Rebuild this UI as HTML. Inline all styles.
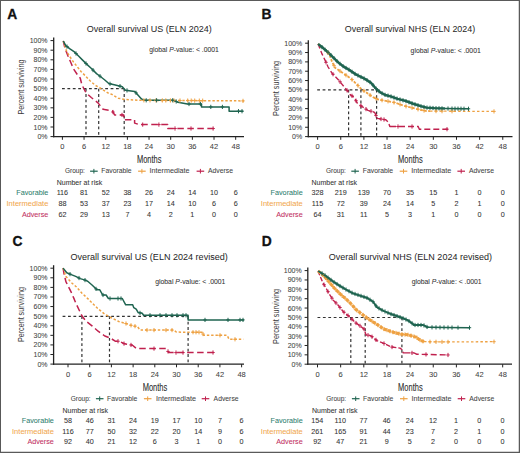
<!DOCTYPE html>
<html><head><meta charset="utf-8"><style>
html,body{margin:0;padding:0;background:#fff;}
svg{display:block;font-family:"Liberation Sans", sans-serif;}
</style></head><body>
<svg width="520" height="453" viewBox="0 0 520 453">
<rect x="0" y="0" width="520" height="453" fill="#fff"/>
<text x="86.8" y="32.2" font-size="9.7" fill="#262626" stroke="#262626" stroke-width="0.02" text-anchor="start" textLength="125" lengthAdjust="spacingAndGlyphs" >Overall survival US (ELN 2024)</text>
<text x="149.2" y="51.8" font-size="7.4" fill="#333" stroke="#333" stroke-width="0.06" text-anchor="start" textLength="69.6" lengthAdjust="spacingAndGlyphs" >global <tspan font-style="italic">P</tspan>-value: &lt; .0001</text>
<text x="7.3" y="18.5" font-size="13.8" fill="#111" stroke="#111" stroke-width="0.3" text-anchor="start" font-weight="bold">A</text>
<line x1="53.7" y1="37.6" x2="53.7" y2="137.25" stroke="#222" stroke-width="1.3"/>
<line x1="50.5" y1="136.6" x2="53.7" y2="136.6" stroke="#222" stroke-width="1"/>
<text x="47.6" y="139.1" font-size="7" fill="#444" stroke="#444" stroke-width="0.06" text-anchor="end" >0%</text>
<line x1="50.5" y1="127" x2="53.7" y2="127" stroke="#222" stroke-width="1"/>
<text x="47.6" y="129.5" font-size="7" fill="#444" stroke="#444" stroke-width="0.06" text-anchor="end" >10%</text>
<line x1="50.5" y1="117.4" x2="53.7" y2="117.4" stroke="#222" stroke-width="1"/>
<text x="47.6" y="119.9" font-size="7" fill="#444" stroke="#444" stroke-width="0.06" text-anchor="end" >20%</text>
<line x1="50.5" y1="107.8" x2="53.7" y2="107.8" stroke="#222" stroke-width="1"/>
<text x="47.6" y="110.3" font-size="7" fill="#444" stroke="#444" stroke-width="0.06" text-anchor="end" >30%</text>
<line x1="50.5" y1="98.2" x2="53.7" y2="98.2" stroke="#222" stroke-width="1"/>
<text x="47.6" y="100.7" font-size="7" fill="#444" stroke="#444" stroke-width="0.06" text-anchor="end" >40%</text>
<line x1="50.5" y1="88.6" x2="53.7" y2="88.6" stroke="#222" stroke-width="1"/>
<text x="47.6" y="91.1" font-size="7" fill="#444" stroke="#444" stroke-width="0.06" text-anchor="end" >50%</text>
<line x1="50.5" y1="79" x2="53.7" y2="79" stroke="#222" stroke-width="1"/>
<text x="47.6" y="81.5" font-size="7" fill="#444" stroke="#444" stroke-width="0.06" text-anchor="end" >60%</text>
<line x1="50.5" y1="69.4" x2="53.7" y2="69.4" stroke="#222" stroke-width="1"/>
<text x="47.6" y="71.9" font-size="7" fill="#444" stroke="#444" stroke-width="0.06" text-anchor="end" >70%</text>
<line x1="50.5" y1="59.8" x2="53.7" y2="59.8" stroke="#222" stroke-width="1"/>
<text x="47.6" y="62.3" font-size="7" fill="#444" stroke="#444" stroke-width="0.06" text-anchor="end" >80%</text>
<line x1="50.5" y1="50.2" x2="53.7" y2="50.2" stroke="#222" stroke-width="1"/>
<text x="47.6" y="52.7" font-size="7" fill="#444" stroke="#444" stroke-width="0.06" text-anchor="end" >90%</text>
<line x1="50.5" y1="40.6" x2="53.7" y2="40.6" stroke="#222" stroke-width="1"/>
<text x="47.6" y="43.1" font-size="7" fill="#444" stroke="#444" stroke-width="0.06" text-anchor="end" >100%</text>
<text transform="translate(23.9,87) rotate(-90)" font-size="9.2" fill="#3a3a3a" text-anchor="middle" textLength="55" lengthAdjust="spacingAndGlyphs">Percent surviving</text>
<line x1="53.05" y1="136.6" x2="244" y2="136.6" stroke="#222" stroke-width="1.3"/>
<line x1="62.4" y1="136.6" x2="62.4" y2="139.8" stroke="#222" stroke-width="1"/>
<text x="62.4" y="149.3" font-size="7.5" fill="#444" stroke="#444" stroke-width="0.06" text-anchor="middle" >0</text>
<line x1="84.06" y1="136.6" x2="84.06" y2="139.8" stroke="#222" stroke-width="1"/>
<text x="84.06" y="149.3" font-size="7.5" fill="#444" stroke="#444" stroke-width="0.06" text-anchor="middle" >6</text>
<line x1="105.72" y1="136.6" x2="105.72" y2="139.8" stroke="#222" stroke-width="1"/>
<text x="105.72" y="149.3" font-size="7.5" fill="#444" stroke="#444" stroke-width="0.06" text-anchor="middle" >12</text>
<line x1="127.38" y1="136.6" x2="127.38" y2="139.8" stroke="#222" stroke-width="1"/>
<text x="127.38" y="149.3" font-size="7.5" fill="#444" stroke="#444" stroke-width="0.06" text-anchor="middle" >18</text>
<line x1="149.04" y1="136.6" x2="149.04" y2="139.8" stroke="#222" stroke-width="1"/>
<text x="149.04" y="149.3" font-size="7.5" fill="#444" stroke="#444" stroke-width="0.06" text-anchor="middle" >24</text>
<line x1="170.7" y1="136.6" x2="170.7" y2="139.8" stroke="#222" stroke-width="1"/>
<text x="170.7" y="149.3" font-size="7.5" fill="#444" stroke="#444" stroke-width="0.06" text-anchor="middle" >30</text>
<line x1="192.36" y1="136.6" x2="192.36" y2="139.8" stroke="#222" stroke-width="1"/>
<text x="192.36" y="149.3" font-size="7.5" fill="#444" stroke="#444" stroke-width="0.06" text-anchor="middle" >36</text>
<line x1="214.02" y1="136.6" x2="214.02" y2="139.8" stroke="#222" stroke-width="1"/>
<text x="214.02" y="149.3" font-size="7.5" fill="#444" stroke="#444" stroke-width="0.06" text-anchor="middle" >42</text>
<line x1="235.68" y1="136.6" x2="235.68" y2="139.8" stroke="#222" stroke-width="1"/>
<text x="235.68" y="149.3" font-size="7.5" fill="#444" stroke="#444" stroke-width="0.06" text-anchor="middle" >48</text>
<text x="136.9" y="163.3" font-size="10.2" fill="#2a2a2a" stroke="#2a2a2a" stroke-width="0.08" text-anchor="start" textLength="24.6" lengthAdjust="spacingAndGlyphs" >Months</text>
<text x="64.9" y="173.4" font-size="7.3" fill="#444" stroke="#444" stroke-width="0.06" text-anchor="start" textLength="20" lengthAdjust="spacingAndGlyphs" >Group:</text>
<line x1="90.1" y1="171.2" x2="97.7" y2="171.2" stroke="#1f6450" stroke-width="1.2"/>
<line x1="93.9" y1="168.9" x2="93.9" y2="173.5" stroke="#1f6450" stroke-width="1"/>
<text x="101.3" y="173.4" font-size="7.3" fill="#444" stroke="#444" stroke-width="0.06" text-anchor="start" textLength="30.3" lengthAdjust="spacingAndGlyphs" >Favorable</text>
<line x1="138.1" y1="171.2" x2="145.7" y2="171.2" stroke="#eea142" stroke-width="1.2"/>
<line x1="141.9" y1="168.9" x2="141.9" y2="173.5" stroke="#eea142" stroke-width="1"/>
<text x="149.6" y="173.4" font-size="7.3" fill="#444" stroke="#444" stroke-width="0.06" text-anchor="start" textLength="40" lengthAdjust="spacingAndGlyphs" >Intermediate</text>
<line x1="196.6" y1="171.2" x2="204.2" y2="171.2" stroke="#c0214e" stroke-width="1.2"/>
<line x1="200.4" y1="168.9" x2="200.4" y2="173.5" stroke="#c0214e" stroke-width="1"/>
<text x="208" y="173.4" font-size="7.3" fill="#444" stroke="#444" stroke-width="0.06" text-anchor="start" textLength="25" lengthAdjust="spacingAndGlyphs" >Adverse</text>
<text x="56.7" y="184.7" font-size="7.5" fill="#333" stroke="#333" stroke-width="0.06" text-anchor="start" textLength="45.5" lengthAdjust="spacingAndGlyphs" >Number at risk</text>
<text x="48.4" y="195" font-size="7.5" fill="#2f8070" stroke="#2f8070" stroke-width="0.06" text-anchor="end" textLength="32.12" lengthAdjust="spacingAndGlyphs" >Favorable</text>
<text x="62.4" y="195" font-size="7.2" fill="#333" stroke="#333" stroke-width="0.06" text-anchor="middle" >116</text>
<text x="84.06" y="195" font-size="7.2" fill="#333" stroke="#333" stroke-width="0.06" text-anchor="middle" >81</text>
<text x="105.72" y="195" font-size="7.2" fill="#333" stroke="#333" stroke-width="0.06" text-anchor="middle" >52</text>
<text x="127.38" y="195" font-size="7.2" fill="#333" stroke="#333" stroke-width="0.06" text-anchor="middle" >38</text>
<text x="149.04" y="195" font-size="7.2" fill="#333" stroke="#333" stroke-width="0.06" text-anchor="middle" >26</text>
<text x="170.7" y="195" font-size="7.2" fill="#333" stroke="#333" stroke-width="0.06" text-anchor="middle" >24</text>
<text x="192.36" y="195" font-size="7.2" fill="#333" stroke="#333" stroke-width="0.06" text-anchor="middle" >14</text>
<text x="214.02" y="195" font-size="7.2" fill="#333" stroke="#333" stroke-width="0.06" text-anchor="middle" >10</text>
<text x="235.68" y="195" font-size="7.2" fill="#333" stroke="#333" stroke-width="0.06" text-anchor="middle" >6</text>
<text x="48.4" y="205.75" font-size="7.5" fill="#f2a84f" stroke="#f2a84f" stroke-width="0.06" text-anchor="end" textLength="41.87" lengthAdjust="spacingAndGlyphs" >Intermediate</text>
<text x="62.4" y="205.75" font-size="7.2" fill="#333" stroke="#333" stroke-width="0.06" text-anchor="middle" >88</text>
<text x="84.06" y="205.75" font-size="7.2" fill="#333" stroke="#333" stroke-width="0.06" text-anchor="middle" >53</text>
<text x="105.72" y="205.75" font-size="7.2" fill="#333" stroke="#333" stroke-width="0.06" text-anchor="middle" >37</text>
<text x="127.38" y="205.75" font-size="7.2" fill="#333" stroke="#333" stroke-width="0.06" text-anchor="middle" >23</text>
<text x="149.04" y="205.75" font-size="7.2" fill="#333" stroke="#333" stroke-width="0.06" text-anchor="middle" >17</text>
<text x="170.7" y="205.75" font-size="7.2" fill="#333" stroke="#333" stroke-width="0.06" text-anchor="middle" >14</text>
<text x="192.36" y="205.75" font-size="7.2" fill="#333" stroke="#333" stroke-width="0.06" text-anchor="middle" >10</text>
<text x="214.02" y="205.75" font-size="7.2" fill="#333" stroke="#333" stroke-width="0.06" text-anchor="middle" >6</text>
<text x="235.68" y="205.75" font-size="7.2" fill="#333" stroke="#333" stroke-width="0.06" text-anchor="middle" >6</text>
<text x="48.4" y="216.5" font-size="7.5" fill="#c23163" stroke="#c23163" stroke-width="0.06" text-anchor="end" textLength="26.5" lengthAdjust="spacingAndGlyphs" >Adverse</text>
<text x="62.4" y="216.5" font-size="7.2" fill="#333" stroke="#333" stroke-width="0.06" text-anchor="middle" >62</text>
<text x="84.06" y="216.5" font-size="7.2" fill="#333" stroke="#333" stroke-width="0.06" text-anchor="middle" >29</text>
<text x="105.72" y="216.5" font-size="7.2" fill="#333" stroke="#333" stroke-width="0.06" text-anchor="middle" >13</text>
<text x="127.38" y="216.5" font-size="7.2" fill="#333" stroke="#333" stroke-width="0.06" text-anchor="middle" >7</text>
<text x="149.04" y="216.5" font-size="7.2" fill="#333" stroke="#333" stroke-width="0.06" text-anchor="middle" >4</text>
<text x="170.7" y="216.5" font-size="7.2" fill="#333" stroke="#333" stroke-width="0.06" text-anchor="middle" >2</text>
<text x="192.36" y="216.5" font-size="7.2" fill="#333" stroke="#333" stroke-width="0.06" text-anchor="middle" >1</text>
<text x="214.02" y="216.5" font-size="7.2" fill="#333" stroke="#333" stroke-width="0.06" text-anchor="middle" >0</text>
<text x="235.68" y="216.5" font-size="7.2" fill="#333" stroke="#333" stroke-width="0.06" text-anchor="middle" >0</text>
<g stroke="#333" stroke-width="1.2" stroke-dasharray="2.8,2.6" fill="none">
<line x1="62" y1="88.7" x2="124.2" y2="88.7"/>
<line x1="86" y1="88.7" x2="86" y2="136.6"/>
<line x1="98.7" y1="88.7" x2="98.7" y2="136.6"/>
<line x1="124.2" y1="88.7" x2="124.2" y2="136.6"/>
</g>
<polyline points="63.3,41 64.8,47.6 67.7,55.3 70.6,62 73.5,68.8 77.3,74.5 80.2,78 81.9,84.8 86,92.8 91.3,97.5 98,102.9 100,105.4 103.1,109.2 112.3,110.8 114.6,114.9 123.8,114.9 123.8,119.7 134.6,119.7 134.6,123.1 139.2,124.6 167.7,124.6 167.7,128.5 215,128.5" fill="none" stroke="#c0214e" stroke-width="1.5" stroke-dasharray="6.5,3.5" stroke-linejoin="round"/>
<polyline points="63.3,41 66.7,51.5 69.6,56.3 73.5,62 77.3,66.8 81.2,71.7 86,76.5 90,80.8 95.4,85.4 99.4,87.5 108.8,93.5 111.5,94.2 118.3,98.2 125,99.5 140.2,100.3 243.9,100.9" fill="none" stroke="#eea142" stroke-width="1.5" stroke-dasharray="2.4,1.9" stroke-linejoin="round"/>
<polyline points="63.3,41 65.8,45.7 69.6,48.6 74.4,51.9 78.3,55.8 82.1,59.6 86.9,64.4 91.7,68.8 96.5,73.6 100.4,76.5 104.8,80 108.8,83.5 114.2,84.8 122.3,86.7 125.4,90.2 134.8,91.5 141.5,98.9 144.2,100.3 173.8,100.3 177.9,102.3 187.4,104 201.5,104 201.5,106.9 229.1,106.9 229.1,111.2 243.3,111.2" fill="none" stroke="#1f6450" stroke-width="1.5" stroke-linejoin="round"/>
<path d="M113 109.95v4.2M111.3 112.05h3.4M122 112.8v4.2M120.3 114.9h3.4M142.7 122.5v4.2M141 124.6h3.4M158.9 122.5v4.2M157.2 124.6h3.4M175 126.4v4.2M173.3 128.5h3.4M191 126.4v4.2M189.3 128.5h3.4M213.1 126.4v4.2M211.4 128.5h3.4" stroke="#c0214e" stroke-width="1" fill="none"/>
<path d="M143.9 98.22v4.2M142.2 100.32h3.4M150 98.26v4.2M148.3 100.36h3.4M156 98.29v4.2M154.3 100.39h3.4M162.3 98.33v4.2M160.6 100.43h3.4M165.8 98.35v4.2M164.1 100.45h3.4M170.4 98.37v4.2M168.7 100.47h3.4M173.9 98.39v4.2M172.2 100.49h3.4M180 98.43v4.2M178.3 100.53h3.4M187.7 98.47v4.2M186 100.57h3.4M191.2 98.5v4.2M189.5 100.6h3.4M194.7 98.52v4.2M193 100.62h3.4M199.3 98.54v4.2M197.6 100.64h3.4M202.7 98.56v4.2M201 100.66h3.4M243 98.79v4.2M241.3 100.89h3.4" stroke="#eea142" stroke-width="1" fill="none"/>
<path d="M67 44.52v4.2M65.3 46.62h3.4M76 51.4v4.2M74.3 53.5h3.4M86 61.4v4.2M84.3 63.5h3.4M93 68v4.2M91.3 70.1h3.4M100 74.1v4.2M98.3 76.2h3.4M110 81.69v4.2M108.3 83.79h3.4M120 84.06v4.2M118.3 86.16h3.4M127 88.32v4.2M125.3 90.42h3.4M136 90.73v4.2M134.3 92.83h3.4M146.2 98.2v4.2M144.5 100.3h3.4M156.6 98.2v4.2M154.9 100.3h3.4M172.7 98.2v4.2M171 100.3h3.4M176.2 99.37v4.2M174.5 101.47h3.4M189 101.9v4.2M187.3 104h3.4M200.4 101.9v4.2M198.7 104h3.4M210.8 104.8v4.2M209.1 106.9h3.4M222.4 104.8v4.2M220.7 106.9h3.4M238.5 109.1v4.2M236.8 111.2h3.4M242 109.1v4.2M240.3 111.2h3.4" stroke="#1f6450" stroke-width="1" fill="none"/>
<text x="344.8" y="32.2" font-size="9.7" fill="#262626" stroke="#262626" stroke-width="0.02" text-anchor="start" textLength="130.4" lengthAdjust="spacingAndGlyphs" >Overall survival NHS (ELN 2024)</text>
<text x="410.6" y="52.6" font-size="7.4" fill="#333" stroke="#333" stroke-width="0.06" text-anchor="start" textLength="70.2" lengthAdjust="spacingAndGlyphs" >global <tspan font-style="italic">P</tspan>-value: &lt; .0001</text>
<text x="261.6" y="18.5" font-size="13.8" fill="#111" stroke="#111" stroke-width="0.3" text-anchor="start" font-weight="bold">B</text>
<line x1="308.3" y1="40.2" x2="308.3" y2="137.25" stroke="#222" stroke-width="1.3"/>
<line x1="305.1" y1="136.6" x2="308.3" y2="136.6" stroke="#222" stroke-width="1"/>
<text x="302.2" y="139.1" font-size="7" fill="#444" stroke="#444" stroke-width="0.06" text-anchor="end" >0%</text>
<line x1="305.1" y1="127.26" x2="308.3" y2="127.26" stroke="#222" stroke-width="1"/>
<text x="302.2" y="129.76" font-size="7" fill="#444" stroke="#444" stroke-width="0.06" text-anchor="end" >10%</text>
<line x1="305.1" y1="117.92" x2="308.3" y2="117.92" stroke="#222" stroke-width="1"/>
<text x="302.2" y="120.42" font-size="7" fill="#444" stroke="#444" stroke-width="0.06" text-anchor="end" >20%</text>
<line x1="305.1" y1="108.58" x2="308.3" y2="108.58" stroke="#222" stroke-width="1"/>
<text x="302.2" y="111.08" font-size="7" fill="#444" stroke="#444" stroke-width="0.06" text-anchor="end" >30%</text>
<line x1="305.1" y1="99.24" x2="308.3" y2="99.24" stroke="#222" stroke-width="1"/>
<text x="302.2" y="101.74" font-size="7" fill="#444" stroke="#444" stroke-width="0.06" text-anchor="end" >40%</text>
<line x1="305.1" y1="89.9" x2="308.3" y2="89.9" stroke="#222" stroke-width="1"/>
<text x="302.2" y="92.4" font-size="7" fill="#444" stroke="#444" stroke-width="0.06" text-anchor="end" >50%</text>
<line x1="305.1" y1="80.56" x2="308.3" y2="80.56" stroke="#222" stroke-width="1"/>
<text x="302.2" y="83.06" font-size="7" fill="#444" stroke="#444" stroke-width="0.06" text-anchor="end" >60%</text>
<line x1="305.1" y1="71.22" x2="308.3" y2="71.22" stroke="#222" stroke-width="1"/>
<text x="302.2" y="73.72" font-size="7" fill="#444" stroke="#444" stroke-width="0.06" text-anchor="end" >70%</text>
<line x1="305.1" y1="61.88" x2="308.3" y2="61.88" stroke="#222" stroke-width="1"/>
<text x="302.2" y="64.38" font-size="7" fill="#444" stroke="#444" stroke-width="0.06" text-anchor="end" >80%</text>
<line x1="305.1" y1="52.54" x2="308.3" y2="52.54" stroke="#222" stroke-width="1"/>
<text x="302.2" y="55.04" font-size="7" fill="#444" stroke="#444" stroke-width="0.06" text-anchor="end" >90%</text>
<line x1="305.1" y1="43.2" x2="308.3" y2="43.2" stroke="#222" stroke-width="1"/>
<text x="302.2" y="45.7" font-size="7" fill="#444" stroke="#444" stroke-width="0.06" text-anchor="end" >100%</text>
<text transform="translate(279.4,88.4) rotate(-90)" font-size="9.2" fill="#3a3a3a" text-anchor="middle" textLength="55" lengthAdjust="spacingAndGlyphs">Percent surviving</text>
<line x1="307.65" y1="136.6" x2="512.5" y2="136.6" stroke="#222" stroke-width="1.3"/>
<line x1="317.6" y1="136.6" x2="317.6" y2="139.8" stroke="#222" stroke-width="1"/>
<text x="317.6" y="149.3" font-size="7.5" fill="#444" stroke="#444" stroke-width="0.06" text-anchor="middle" >0</text>
<line x1="340.75" y1="136.6" x2="340.75" y2="139.8" stroke="#222" stroke-width="1"/>
<text x="340.75" y="149.3" font-size="7.5" fill="#444" stroke="#444" stroke-width="0.06" text-anchor="middle" >6</text>
<line x1="363.9" y1="136.6" x2="363.9" y2="139.8" stroke="#222" stroke-width="1"/>
<text x="363.9" y="149.3" font-size="7.5" fill="#444" stroke="#444" stroke-width="0.06" text-anchor="middle" >12</text>
<line x1="387.04" y1="136.6" x2="387.04" y2="139.8" stroke="#222" stroke-width="1"/>
<text x="387.04" y="149.3" font-size="7.5" fill="#444" stroke="#444" stroke-width="0.06" text-anchor="middle" >18</text>
<line x1="410.19" y1="136.6" x2="410.19" y2="139.8" stroke="#222" stroke-width="1"/>
<text x="410.19" y="149.3" font-size="7.5" fill="#444" stroke="#444" stroke-width="0.06" text-anchor="middle" >24</text>
<line x1="433.34" y1="136.6" x2="433.34" y2="139.8" stroke="#222" stroke-width="1"/>
<text x="433.34" y="149.3" font-size="7.5" fill="#444" stroke="#444" stroke-width="0.06" text-anchor="middle" >30</text>
<line x1="456.49" y1="136.6" x2="456.49" y2="139.8" stroke="#222" stroke-width="1"/>
<text x="456.49" y="149.3" font-size="7.5" fill="#444" stroke="#444" stroke-width="0.06" text-anchor="middle" >36</text>
<line x1="479.64" y1="136.6" x2="479.64" y2="139.8" stroke="#222" stroke-width="1"/>
<text x="479.64" y="149.3" font-size="7.5" fill="#444" stroke="#444" stroke-width="0.06" text-anchor="middle" >42</text>
<line x1="502.78" y1="136.6" x2="502.78" y2="139.8" stroke="#222" stroke-width="1"/>
<text x="502.78" y="149.3" font-size="7.5" fill="#444" stroke="#444" stroke-width="0.06" text-anchor="middle" >48</text>
<text x="398.1" y="163.3" font-size="10.2" fill="#2a2a2a" stroke="#2a2a2a" stroke-width="0.08" text-anchor="start" textLength="24.6" lengthAdjust="spacingAndGlyphs" >Months</text>
<text x="325.9" y="173.4" font-size="7.3" fill="#444" stroke="#444" stroke-width="0.06" text-anchor="start" textLength="20" lengthAdjust="spacingAndGlyphs" >Group:</text>
<line x1="351.3" y1="171.2" x2="358.9" y2="171.2" stroke="#1f6450" stroke-width="1.2"/>
<line x1="355.1" y1="168.9" x2="355.1" y2="173.5" stroke="#1f6450" stroke-width="1"/>
<text x="362.8" y="173.4" font-size="7.3" fill="#444" stroke="#444" stroke-width="0.06" text-anchor="start" textLength="30.3" lengthAdjust="spacingAndGlyphs" >Favorable</text>
<line x1="399.7" y1="171.2" x2="407.3" y2="171.2" stroke="#eea142" stroke-width="1.2"/>
<line x1="403.5" y1="168.9" x2="403.5" y2="173.5" stroke="#eea142" stroke-width="1"/>
<text x="411.2" y="173.4" font-size="7.3" fill="#444" stroke="#444" stroke-width="0.06" text-anchor="start" textLength="40" lengthAdjust="spacingAndGlyphs" >Intermediate</text>
<line x1="457.4" y1="171.2" x2="465" y2="171.2" stroke="#c0214e" stroke-width="1.2"/>
<line x1="461.2" y1="168.9" x2="461.2" y2="173.5" stroke="#c0214e" stroke-width="1"/>
<text x="469" y="173.4" font-size="7.3" fill="#444" stroke="#444" stroke-width="0.06" text-anchor="start" textLength="25" lengthAdjust="spacingAndGlyphs" >Adverse</text>
<text x="311.5" y="184.7" font-size="7.5" fill="#333" stroke="#333" stroke-width="0.06" text-anchor="start" textLength="45.5" lengthAdjust="spacingAndGlyphs" >Number at risk</text>
<text x="302.7" y="195" font-size="7.5" fill="#2f8070" stroke="#2f8070" stroke-width="0.06" text-anchor="end" textLength="32.12" lengthAdjust="spacingAndGlyphs" >Favorable</text>
<text x="317.5" y="195" font-size="7.2" fill="#333" stroke="#333" stroke-width="0.06" text-anchor="middle" >328</text>
<text x="340.65" y="195" font-size="7.2" fill="#333" stroke="#333" stroke-width="0.06" text-anchor="middle" >219</text>
<text x="363.8" y="195" font-size="7.2" fill="#333" stroke="#333" stroke-width="0.06" text-anchor="middle" >139</text>
<text x="386.94" y="195" font-size="7.2" fill="#333" stroke="#333" stroke-width="0.06" text-anchor="middle" >70</text>
<text x="410.09" y="195" font-size="7.2" fill="#333" stroke="#333" stroke-width="0.06" text-anchor="middle" >35</text>
<text x="433.24" y="195" font-size="7.2" fill="#333" stroke="#333" stroke-width="0.06" text-anchor="middle" >15</text>
<text x="456.39" y="195" font-size="7.2" fill="#333" stroke="#333" stroke-width="0.06" text-anchor="middle" >1</text>
<text x="479.54" y="195" font-size="7.2" fill="#333" stroke="#333" stroke-width="0.06" text-anchor="middle" >0</text>
<text x="502.68" y="195" font-size="7.2" fill="#333" stroke="#333" stroke-width="0.06" text-anchor="middle" >0</text>
<text x="302.7" y="205.75" font-size="7.5" fill="#f2a84f" stroke="#f2a84f" stroke-width="0.06" text-anchor="end" textLength="41.87" lengthAdjust="spacingAndGlyphs" >Intermediate</text>
<text x="317.5" y="205.75" font-size="7.2" fill="#333" stroke="#333" stroke-width="0.06" text-anchor="middle" >115</text>
<text x="340.65" y="205.75" font-size="7.2" fill="#333" stroke="#333" stroke-width="0.06" text-anchor="middle" >72</text>
<text x="363.8" y="205.75" font-size="7.2" fill="#333" stroke="#333" stroke-width="0.06" text-anchor="middle" >39</text>
<text x="386.94" y="205.75" font-size="7.2" fill="#333" stroke="#333" stroke-width="0.06" text-anchor="middle" >24</text>
<text x="410.09" y="205.75" font-size="7.2" fill="#333" stroke="#333" stroke-width="0.06" text-anchor="middle" >14</text>
<text x="433.24" y="205.75" font-size="7.2" fill="#333" stroke="#333" stroke-width="0.06" text-anchor="middle" >5</text>
<text x="456.39" y="205.75" font-size="7.2" fill="#333" stroke="#333" stroke-width="0.06" text-anchor="middle" >2</text>
<text x="479.54" y="205.75" font-size="7.2" fill="#333" stroke="#333" stroke-width="0.06" text-anchor="middle" >1</text>
<text x="502.68" y="205.75" font-size="7.2" fill="#333" stroke="#333" stroke-width="0.06" text-anchor="middle" >0</text>
<text x="302.7" y="216.5" font-size="7.5" fill="#c23163" stroke="#c23163" stroke-width="0.06" text-anchor="end" textLength="26.5" lengthAdjust="spacingAndGlyphs" >Adverse</text>
<text x="317.5" y="216.5" font-size="7.2" fill="#333" stroke="#333" stroke-width="0.06" text-anchor="middle" >64</text>
<text x="340.65" y="216.5" font-size="7.2" fill="#333" stroke="#333" stroke-width="0.06" text-anchor="middle" >31</text>
<text x="363.8" y="216.5" font-size="7.2" fill="#333" stroke="#333" stroke-width="0.06" text-anchor="middle" >11</text>
<text x="386.94" y="216.5" font-size="7.2" fill="#333" stroke="#333" stroke-width="0.06" text-anchor="middle" >5</text>
<text x="410.09" y="216.5" font-size="7.2" fill="#333" stroke="#333" stroke-width="0.06" text-anchor="middle" >3</text>
<text x="433.24" y="216.5" font-size="7.2" fill="#333" stroke="#333" stroke-width="0.06" text-anchor="middle" >1</text>
<text x="456.39" y="216.5" font-size="7.2" fill="#333" stroke="#333" stroke-width="0.06" text-anchor="middle" >0</text>
<text x="479.54" y="216.5" font-size="7.2" fill="#333" stroke="#333" stroke-width="0.06" text-anchor="middle" >0</text>
<text x="502.68" y="216.5" font-size="7.2" fill="#333" stroke="#333" stroke-width="0.06" text-anchor="middle" >0</text>
<g stroke="#333" stroke-width="1.2" stroke-dasharray="2.8,2.6" fill="none">
<line x1="317.2" y1="89.8" x2="376.6" y2="89.8"/>
<line x1="348.6" y1="89.8" x2="348.6" y2="136.6"/>
<line x1="360.9" y1="89.8" x2="360.9" y2="136.6"/>
<line x1="376.6" y1="89.8" x2="376.6" y2="136.6"/>
</g>
<polyline points="318.1,43.9 319.6,47.7 322,53.9 325,60.1 328.1,67 332,73.2 338.3,79.7 346.3,89.4 350.4,94.8 354.4,97.5 357.1,102.9 362.5,106.9 367.9,110.3 374.6,112.3 377.3,118.4 385.8,119.8 388.5,122.5 389.8,126.5 390,126.5" fill="none" stroke="#c0214e" stroke-width="1.4" stroke-dasharray="5,2.5" stroke-linejoin="round"/>
<polyline points="390,126.5 418.1,126.5 419.4,129.2 447.9,129.2" fill="none" stroke="#c0214e" stroke-width="1.4" stroke-dasharray="6,3"/>
<polyline points="318.1,43.9 326.6,50.8 329.7,55.4 332,61.6 335.1,67.8 339.7,70.9 344.3,74 351.8,79.4 357.1,84.7 361.5,89.1 367.7,93.5 373,97.1 378,99.5 385.8,100.9 395.8,102.8 403.5,105.7 411.2,107.6 418.8,109.5 426.5,111 430,111.04" fill="none" stroke="#eea142" stroke-width="1.8" stroke-dasharray="2.6,1.5" stroke-linejoin="round"/>
<polyline points="430,111.04 445,111.2 494.1,111.4" fill="none" stroke="#eea142" stroke-width="1.3" stroke-dasharray="2.5,2.2"/>
<polyline points="318.1,43.9 322.7,47.7 328.1,52.4 332.8,57 338.2,62.4 343.6,66.6 349,69.7 355.3,74.1 360.6,76.8 365.9,79.4 371.2,83 375.6,88.2 380,92.2 385.3,95 390.6,96.3 397.7,98.9 405.4,100.9 413.1,103.75 420.8,106.2 426.5,107.6 434.2,108.1 445,108.5" fill="none" stroke="#1f6450" stroke-width="2.4" stroke-linejoin="round"/>
<polyline points="445,108.5 468.9,108.8" fill="none" stroke="#1f6450" stroke-width="1.4"/>
<path d="M326 60.23v4.2M324.3 62.33h3.4M333 72.13v4.2M331.3 74.23h3.4M340 79.66v4.2M338.3 81.76h3.4M347 88.22v4.2M345.3 90.32h3.4M352 93.78v4.2M350.3 95.88h3.4M356 98.6v4.2M354.3 100.7h3.4M361 103.69v4.2M359.3 105.79h3.4M366 107v4.2M364.3 109.1h3.4M371 109.13v4.2M369.3 111.23h3.4M376 113.36v4.2M374.3 115.46h3.4M381 116.91v4.2M379.3 119.01h3.4M384 117.4v4.2M382.3 119.5h3.4M398 124.4v4.2M396.3 126.5h3.4M412 124.4v4.2M410.3 126.5h3.4M447 127.1v4.2M445.3 129.2h3.4" stroke="#c0214e" stroke-width="1" fill="none"/>
<path d="M328 50.78v4.2M326.3 52.88h3.4M334 63.5v4.2M332.3 65.6h3.4M340 69v4.2M338.3 71.1h3.4M346 73.12v4.2M344.3 75.22h3.4M352 77.5v4.2M350.3 79.6h3.4M358 83.5v4.2M356.3 85.6h3.4M364 88.77v4.2M362.3 90.87h3.4M370 92.96v4.2M368.3 95.06h3.4M376 96.44v4.2M374.3 98.54h3.4M382 98.12v4.2M380.3 100.22h3.4M388 99.22v4.2M386.3 101.32h3.4M394 100.36v4.2M392.3 102.46h3.4M400 102.28v4.2M398.3 104.38h3.4M406 104.22v4.2M404.3 106.32h3.4M412 105.7v4.2M410.3 107.8h3.4M418 107.2v4.2M416.3 109.3h3.4M424 108.41v4.2M422.3 110.51h3.4M436 109v4.2M434.3 111.1h3.4M442 109.07v4.2M440.3 111.17h3.4M452 109.13v4.2M450.3 111.23h3.4M494 109.3v4.2M492.3 111.4h3.4" stroke="#eea142" stroke-width="1" fill="none"/>
<path d="M322 45.02v4.2M320.3 47.12h3.4M325 47.6v4.2M323.3 49.7h3.4M328 50.21v4.2M326.3 52.31h3.4M331 53.14v4.2M329.3 55.24h3.4M334 56.1v4.2M332.3 58.2h3.4M337 59.1v4.2M335.3 61.2h3.4M340 61.7v4.2M338.3 63.8h3.4M343 64.03v4.2M341.3 66.13h3.4M346 65.88v4.2M344.3 67.98h3.4M349 67.6v4.2M347.3 69.7h3.4M352 69.7v4.2M350.3 71.8h3.4M355 71.79v4.2M353.3 73.89h3.4M358 73.38v4.2M356.3 75.48h3.4M361 74.9v4.2M359.3 77h3.4M364 76.37v4.2M362.3 78.47h3.4M367 78.05v4.2M365.3 80.15h3.4M370 80.08v4.2M368.3 82.18h3.4M373 83.03v4.2M371.3 85.13h3.4M376 86.46v4.2M374.3 88.56h3.4M379 89.19v4.2M377.3 91.29h3.4M382 91.16v4.2M380.3 93.26h3.4M385 92.74v4.2M383.3 94.84h3.4M388 93.56v4.2M386.3 95.66h3.4M391 94.35v4.2M389.3 96.45h3.4M394 95.45v4.2M392.3 97.55h3.4M397 96.54v4.2M395.3 98.64h3.4M400 97.4v4.2M398.3 99.5h3.4M403 98.18v4.2M401.3 100.28h3.4M406 99.02v4.2M404.3 101.12h3.4M409 100.13v4.2M407.3 102.23h3.4M412 101.24v4.2M410.3 103.34h3.4M415 102.25v4.2M413.3 104.35h3.4M418 103.21v4.2M416.3 105.31h3.4M421 104.15v4.2M419.3 106.25h3.4M424 104.89v4.2M422.3 106.99h3.4M427 105.53v4.2M425.3 107.63h3.4M430 105.73v4.2M428.3 107.83h3.4M433 105.92v4.2M431.3 108.02h3.4M436 106.07v4.2M434.3 108.17h3.4M439 106.18v4.2M437.3 108.28h3.4M442 106.29v4.2M440.3 108.39h3.4M448 106.44v4.2M446.3 108.54h3.4M452 106.49v4.2M450.3 108.59h3.4M455 106.53v4.2M453.3 108.63h3.4M458 106.56v4.2M456.3 108.66h3.4M461 106.6v4.2M459.3 108.7h3.4M464 106.64v4.2M462.3 108.74h3.4M468.5 106.69v4.2M466.8 108.79h3.4" stroke="#1f6450" stroke-width="1" fill="none"/>
<text x="70.4" y="259.9" font-size="9.7" fill="#262626" stroke="#262626" stroke-width="0.02" text-anchor="start" textLength="157.4" lengthAdjust="spacingAndGlyphs" >Overall survival US (ELN 2024 revised)</text>
<text x="155.2" y="284.3" font-size="7.4" fill="#333" stroke="#333" stroke-width="0.06" text-anchor="start" textLength="70.2" lengthAdjust="spacingAndGlyphs" >global <tspan font-style="italic">P</tspan>-value: &lt; .0001</text>
<text x="12.6" y="245.9" font-size="13.8" fill="#111" stroke="#111" stroke-width="0.3" text-anchor="start" font-weight="bold">C</text>
<line x1="53.6" y1="265.2" x2="53.6" y2="364.75" stroke="#222" stroke-width="1.3"/>
<line x1="50.4" y1="364.1" x2="53.6" y2="364.1" stroke="#222" stroke-width="1"/>
<text x="47.5" y="366.6" font-size="7" fill="#444" stroke="#444" stroke-width="0.06" text-anchor="end" >0%</text>
<line x1="50.4" y1="354.51" x2="53.6" y2="354.51" stroke="#222" stroke-width="1"/>
<text x="47.5" y="357.01" font-size="7" fill="#444" stroke="#444" stroke-width="0.06" text-anchor="end" >10%</text>
<line x1="50.4" y1="344.92" x2="53.6" y2="344.92" stroke="#222" stroke-width="1"/>
<text x="47.5" y="347.42" font-size="7" fill="#444" stroke="#444" stroke-width="0.06" text-anchor="end" >20%</text>
<line x1="50.4" y1="335.33" x2="53.6" y2="335.33" stroke="#222" stroke-width="1"/>
<text x="47.5" y="337.83" font-size="7" fill="#444" stroke="#444" stroke-width="0.06" text-anchor="end" >30%</text>
<line x1="50.4" y1="325.74" x2="53.6" y2="325.74" stroke="#222" stroke-width="1"/>
<text x="47.5" y="328.24" font-size="7" fill="#444" stroke="#444" stroke-width="0.06" text-anchor="end" >40%</text>
<line x1="50.4" y1="316.15" x2="53.6" y2="316.15" stroke="#222" stroke-width="1"/>
<text x="47.5" y="318.65" font-size="7" fill="#444" stroke="#444" stroke-width="0.06" text-anchor="end" >50%</text>
<line x1="50.4" y1="306.56" x2="53.6" y2="306.56" stroke="#222" stroke-width="1"/>
<text x="47.5" y="309.06" font-size="7" fill="#444" stroke="#444" stroke-width="0.06" text-anchor="end" >60%</text>
<line x1="50.4" y1="296.97" x2="53.6" y2="296.97" stroke="#222" stroke-width="1"/>
<text x="47.5" y="299.47" font-size="7" fill="#444" stroke="#444" stroke-width="0.06" text-anchor="end" >70%</text>
<line x1="50.4" y1="287.38" x2="53.6" y2="287.38" stroke="#222" stroke-width="1"/>
<text x="47.5" y="289.88" font-size="7" fill="#444" stroke="#444" stroke-width="0.06" text-anchor="end" >80%</text>
<line x1="50.4" y1="277.79" x2="53.6" y2="277.79" stroke="#222" stroke-width="1"/>
<text x="47.5" y="280.29" font-size="7" fill="#444" stroke="#444" stroke-width="0.06" text-anchor="end" >90%</text>
<line x1="50.4" y1="268.2" x2="53.6" y2="268.2" stroke="#222" stroke-width="1"/>
<text x="47.5" y="270.7" font-size="7" fill="#444" stroke="#444" stroke-width="0.06" text-anchor="end" >100%</text>
<text transform="translate(23.9,314.6) rotate(-90)" font-size="9.2" fill="#3a3a3a" text-anchor="middle" textLength="55" lengthAdjust="spacingAndGlyphs">Percent surviving</text>
<line x1="52.95" y1="364.1" x2="244" y2="364.1" stroke="#222" stroke-width="1.3"/>
<line x1="68" y1="364.1" x2="68" y2="367.3" stroke="#222" stroke-width="1"/>
<text x="68" y="377.1" font-size="7.5" fill="#444" stroke="#444" stroke-width="0.06" text-anchor="middle" >0</text>
<line x1="89.7" y1="364.1" x2="89.7" y2="367.3" stroke="#222" stroke-width="1"/>
<text x="89.7" y="377.1" font-size="7.5" fill="#444" stroke="#444" stroke-width="0.06" text-anchor="middle" >6</text>
<line x1="111.4" y1="364.1" x2="111.4" y2="367.3" stroke="#222" stroke-width="1"/>
<text x="111.4" y="377.1" font-size="7.5" fill="#444" stroke="#444" stroke-width="0.06" text-anchor="middle" >12</text>
<line x1="133.11" y1="364.1" x2="133.11" y2="367.3" stroke="#222" stroke-width="1"/>
<text x="133.11" y="377.1" font-size="7.5" fill="#444" stroke="#444" stroke-width="0.06" text-anchor="middle" >18</text>
<line x1="154.81" y1="364.1" x2="154.81" y2="367.3" stroke="#222" stroke-width="1"/>
<text x="154.81" y="377.1" font-size="7.5" fill="#444" stroke="#444" stroke-width="0.06" text-anchor="middle" >24</text>
<line x1="176.51" y1="364.1" x2="176.51" y2="367.3" stroke="#222" stroke-width="1"/>
<text x="176.51" y="377.1" font-size="7.5" fill="#444" stroke="#444" stroke-width="0.06" text-anchor="middle" >30</text>
<line x1="198.21" y1="364.1" x2="198.21" y2="367.3" stroke="#222" stroke-width="1"/>
<text x="198.21" y="377.1" font-size="7.5" fill="#444" stroke="#444" stroke-width="0.06" text-anchor="middle" >36</text>
<line x1="219.91" y1="364.1" x2="219.91" y2="367.3" stroke="#222" stroke-width="1"/>
<text x="219.91" y="377.1" font-size="7.5" fill="#444" stroke="#444" stroke-width="0.06" text-anchor="middle" >42</text>
<line x1="241.62" y1="364.1" x2="241.62" y2="367.3" stroke="#222" stroke-width="1"/>
<text x="241.62" y="377.1" font-size="7.5" fill="#444" stroke="#444" stroke-width="0.06" text-anchor="middle" >48</text>
<text x="142.7" y="390.9" font-size="10.2" fill="#2a2a2a" stroke="#2a2a2a" stroke-width="0.08" text-anchor="start" textLength="24.6" lengthAdjust="spacingAndGlyphs" >Months</text>
<text x="70.7" y="400.9" font-size="7.3" fill="#444" stroke="#444" stroke-width="0.06" text-anchor="start" textLength="20" lengthAdjust="spacingAndGlyphs" >Group:</text>
<line x1="95.9" y1="398.7" x2="103.5" y2="398.7" stroke="#1f6450" stroke-width="1.2"/>
<line x1="99.7" y1="396.4" x2="99.7" y2="401" stroke="#1f6450" stroke-width="1"/>
<text x="107.1" y="400.9" font-size="7.3" fill="#444" stroke="#444" stroke-width="0.06" text-anchor="start" textLength="30.3" lengthAdjust="spacingAndGlyphs" >Favorable</text>
<line x1="143.9" y1="398.7" x2="151.5" y2="398.7" stroke="#eea142" stroke-width="1.2"/>
<line x1="147.7" y1="396.4" x2="147.7" y2="401" stroke="#eea142" stroke-width="1"/>
<text x="155.9" y="400.9" font-size="7.3" fill="#444" stroke="#444" stroke-width="0.06" text-anchor="start" textLength="40" lengthAdjust="spacingAndGlyphs" >Intermediate</text>
<line x1="201.7" y1="398.7" x2="209.3" y2="398.7" stroke="#c0214e" stroke-width="1.2"/>
<line x1="205.5" y1="396.4" x2="205.5" y2="401" stroke="#c0214e" stroke-width="1"/>
<text x="213.6" y="400.9" font-size="7.3" fill="#444" stroke="#444" stroke-width="0.06" text-anchor="start" textLength="25" lengthAdjust="spacingAndGlyphs" >Adverse</text>
<text x="62.5" y="412.5" font-size="7.5" fill="#333" stroke="#333" stroke-width="0.06" text-anchor="start" textLength="45.5" lengthAdjust="spacingAndGlyphs" >Number at risk</text>
<text x="53.9" y="422.8" font-size="7.5" fill="#2f8070" stroke="#2f8070" stroke-width="0.06" text-anchor="end" textLength="32.12" lengthAdjust="spacingAndGlyphs" >Favorable</text>
<text x="68" y="422.8" font-size="7.2" fill="#333" stroke="#333" stroke-width="0.06" text-anchor="middle" >58</text>
<text x="89.7" y="422.8" font-size="7.2" fill="#333" stroke="#333" stroke-width="0.06" text-anchor="middle" >46</text>
<text x="111.4" y="422.8" font-size="7.2" fill="#333" stroke="#333" stroke-width="0.06" text-anchor="middle" >31</text>
<text x="133.11" y="422.8" font-size="7.2" fill="#333" stroke="#333" stroke-width="0.06" text-anchor="middle" >24</text>
<text x="154.81" y="422.8" font-size="7.2" fill="#333" stroke="#333" stroke-width="0.06" text-anchor="middle" >19</text>
<text x="176.51" y="422.8" font-size="7.2" fill="#333" stroke="#333" stroke-width="0.06" text-anchor="middle" >17</text>
<text x="198.21" y="422.8" font-size="7.2" fill="#333" stroke="#333" stroke-width="0.06" text-anchor="middle" >10</text>
<text x="219.91" y="422.8" font-size="7.2" fill="#333" stroke="#333" stroke-width="0.06" text-anchor="middle" >7</text>
<text x="241.62" y="422.8" font-size="7.2" fill="#333" stroke="#333" stroke-width="0.06" text-anchor="middle" >6</text>
<text x="53.9" y="433.55" font-size="7.5" fill="#f2a84f" stroke="#f2a84f" stroke-width="0.06" text-anchor="end" textLength="41.87" lengthAdjust="spacingAndGlyphs" >Intermediate</text>
<text x="68" y="433.55" font-size="7.2" fill="#333" stroke="#333" stroke-width="0.06" text-anchor="middle" >116</text>
<text x="89.7" y="433.55" font-size="7.2" fill="#333" stroke="#333" stroke-width="0.06" text-anchor="middle" >77</text>
<text x="111.4" y="433.55" font-size="7.2" fill="#333" stroke="#333" stroke-width="0.06" text-anchor="middle" >50</text>
<text x="133.11" y="433.55" font-size="7.2" fill="#333" stroke="#333" stroke-width="0.06" text-anchor="middle" >32</text>
<text x="154.81" y="433.55" font-size="7.2" fill="#333" stroke="#333" stroke-width="0.06" text-anchor="middle" >22</text>
<text x="176.51" y="433.55" font-size="7.2" fill="#333" stroke="#333" stroke-width="0.06" text-anchor="middle" >20</text>
<text x="198.21" y="433.55" font-size="7.2" fill="#333" stroke="#333" stroke-width="0.06" text-anchor="middle" >14</text>
<text x="219.91" y="433.55" font-size="7.2" fill="#333" stroke="#333" stroke-width="0.06" text-anchor="middle" >9</text>
<text x="241.62" y="433.55" font-size="7.2" fill="#333" stroke="#333" stroke-width="0.06" text-anchor="middle" >6</text>
<text x="53.9" y="444.3" font-size="7.5" fill="#c23163" stroke="#c23163" stroke-width="0.06" text-anchor="end" textLength="26.5" lengthAdjust="spacingAndGlyphs" >Adverse</text>
<text x="68" y="444.3" font-size="7.2" fill="#333" stroke="#333" stroke-width="0.06" text-anchor="middle" >92</text>
<text x="89.7" y="444.3" font-size="7.2" fill="#333" stroke="#333" stroke-width="0.06" text-anchor="middle" >40</text>
<text x="111.4" y="444.3" font-size="7.2" fill="#333" stroke="#333" stroke-width="0.06" text-anchor="middle" >21</text>
<text x="133.11" y="444.3" font-size="7.2" fill="#333" stroke="#333" stroke-width="0.06" text-anchor="middle" >12</text>
<text x="154.81" y="444.3" font-size="7.2" fill="#333" stroke="#333" stroke-width="0.06" text-anchor="middle" >6</text>
<text x="176.51" y="444.3" font-size="7.2" fill="#333" stroke="#333" stroke-width="0.06" text-anchor="middle" >3</text>
<text x="198.21" y="444.3" font-size="7.2" fill="#333" stroke="#333" stroke-width="0.06" text-anchor="middle" >1</text>
<text x="219.91" y="444.3" font-size="7.2" fill="#333" stroke="#333" stroke-width="0.06" text-anchor="middle" >0</text>
<text x="241.62" y="444.3" font-size="7.2" fill="#333" stroke="#333" stroke-width="0.06" text-anchor="middle" >0</text>
<g stroke="#333" stroke-width="1.2" stroke-dasharray="2.8,2.6" fill="none">
<line x1="62.6" y1="316.3" x2="188.1" y2="316.3"/>
<line x1="81.9" y1="316.3" x2="81.9" y2="364.1"/>
<line x1="109.5" y1="316.3" x2="109.5" y2="364.1"/>
<line x1="188.1" y1="316.3" x2="188.1" y2="364.1"/>
</g>
<polyline points="63.1,268.1 64.2,274.6 65.9,281.7 68.6,287 71.2,292.2 73.9,298.4 75.7,302.8 81.9,315.8 86,321.2 92.3,326.1 98.1,331.2 104.8,336 110.2,338 115.6,341.3 119,341.2 124.4,343.8 132.5,345.2 136.5,348.6 166.1,348.6 168.8,352.6 215,352.5" fill="none" stroke="#c0214e" stroke-width="1.5" stroke-dasharray="6.5,3.5" stroke-linejoin="round"/>
<polyline points="63.1,268.1 65.9,276.4 71.2,282.5 76.5,287 81.8,293.1 86.5,297.3 92.3,303.1 98.1,308.8 103.8,313.4 109.6,316.9 118.8,321.5 126.9,323.8 128.1,324.7 137.5,326.7 140.2,330.1 173.8,330.1 176.5,332.1 202.2,332.3 203.6,335.3 227.1,335.3 229.1,339.3 243.3,339.3" fill="none" stroke="#eea142" stroke-width="1.5" stroke-dasharray="2.4,1.9" stroke-linejoin="round"/>
<polyline points="63.1,268.1 66.8,272.8 71.2,274.6 75.7,276.4 80.1,278.6 84.5,279.9 87.7,281.2 92.3,285.2 96.9,289.8 99.8,289.8 102.7,295 106.1,295 108.4,298.5 122.3,298.5 125.7,304.8 132.7,304.8 133.8,307.7 136.2,309.2 138.2,312.6 142.2,313.3 143.6,315.3 188.1,315.3 188.1,319.9 243.9,319.9" fill="none" stroke="#1f6450" stroke-width="1.5" stroke-linejoin="round"/>
<path d="M118 339.13v4.2M116.3 341.23h3.4M124 341.51v4.2M122.3 343.61h3.4M131 342.84v4.2M129.3 344.94h3.4M154 346.5v4.2M152.3 348.6h3.4M168 349.31v4.2M166.3 351.41h3.4M176 350.48v4.2M174.3 352.58h3.4M183 350.47v4.2M181.3 352.57h3.4M213 350.4v4.2M211.3 352.5h3.4" stroke="#c0214e" stroke-width="1" fill="none"/>
<path d="M126 321.44v4.2M124.3 323.54h3.4M131 323.22v4.2M129.3 325.32h3.4M135 324.07v4.2M133.3 326.17h3.4M147 328v4.2M145.3 330.1h3.4M154 328v4.2M152.3 330.1h3.4M166 328v4.2M164.3 330.1h3.4M172 328v4.2M170.3 330.1h3.4M193 330.13v4.2M191.3 332.23h3.4M196 330.15v4.2M194.3 332.25h3.4M199 330.18v4.2M197.3 332.28h3.4M203 331.91v4.2M201.3 334.01h3.4M220 333.2v4.2M218.3 335.3h3.4M235 337.2v4.2M233.3 339.3h3.4" stroke="#eea142" stroke-width="1" fill="none"/>
<path d="M70 272.01v4.2M68.3 274.11h3.4M79 275.95v4.2M77.3 278.05h3.4M85 278v4.2M83.3 280.1h3.4M96 286.8v4.2M94.3 288.9h3.4M103 292.9v4.2M101.3 295h3.4M110 296.4v4.2M108.3 298.5h3.4M118 296.4v4.2M116.3 298.5h3.4M121 296.4v4.2M119.3 298.5h3.4M140 310.81v4.2M138.3 312.92h3.4M150 313.2v4.2M148.3 315.3h3.4M160 313.2v4.2M158.3 315.3h3.4M166 313.2v4.2M164.3 315.3h3.4M172 313.2v4.2M170.3 315.3h3.4M177 313.2v4.2M175.3 315.3h3.4M183 313.2v4.2M181.3 315.3h3.4M186 313.2v4.2M184.3 315.3h3.4M205 317.8v4.2M203.3 319.9h3.4M228 317.8v4.2M226.3 319.9h3.4M240 317.8v4.2M238.3 319.9h3.4M243 317.8v4.2M241.3 319.9h3.4" stroke="#1f6450" stroke-width="1" fill="none"/>
<text x="328.7" y="260.2" font-size="9.7" fill="#262626" stroke="#262626" stroke-width="0.02" text-anchor="start" textLength="163.3" lengthAdjust="spacingAndGlyphs" >Overall survival NHS (ELN 2024 revised)</text>
<text x="411.7" y="284.3" font-size="7.4" fill="#333" stroke="#333" stroke-width="0.06" text-anchor="start" textLength="69.9" lengthAdjust="spacingAndGlyphs" >global <tspan font-style="italic">P</tspan>-value: &lt; .0001</text>
<text x="261.7" y="245.7" font-size="13.8" fill="#111" stroke="#111" stroke-width="0.3" text-anchor="start" font-weight="bold">D</text>
<line x1="307.8" y1="267.6" x2="307.8" y2="364.85" stroke="#222" stroke-width="1.3"/>
<line x1="304.6" y1="364.2" x2="307.8" y2="364.2" stroke="#222" stroke-width="1"/>
<text x="301.7" y="366.7" font-size="7" fill="#444" stroke="#444" stroke-width="0.06" text-anchor="end" >0%</text>
<line x1="304.6" y1="354.84" x2="307.8" y2="354.84" stroke="#222" stroke-width="1"/>
<text x="301.7" y="357.34" font-size="7" fill="#444" stroke="#444" stroke-width="0.06" text-anchor="end" >10%</text>
<line x1="304.6" y1="345.48" x2="307.8" y2="345.48" stroke="#222" stroke-width="1"/>
<text x="301.7" y="347.98" font-size="7" fill="#444" stroke="#444" stroke-width="0.06" text-anchor="end" >20%</text>
<line x1="304.6" y1="336.12" x2="307.8" y2="336.12" stroke="#222" stroke-width="1"/>
<text x="301.7" y="338.62" font-size="7" fill="#444" stroke="#444" stroke-width="0.06" text-anchor="end" >30%</text>
<line x1="304.6" y1="326.76" x2="307.8" y2="326.76" stroke="#222" stroke-width="1"/>
<text x="301.7" y="329.26" font-size="7" fill="#444" stroke="#444" stroke-width="0.06" text-anchor="end" >40%</text>
<line x1="304.6" y1="317.4" x2="307.8" y2="317.4" stroke="#222" stroke-width="1"/>
<text x="301.7" y="319.9" font-size="7" fill="#444" stroke="#444" stroke-width="0.06" text-anchor="end" >50%</text>
<line x1="304.6" y1="308.04" x2="307.8" y2="308.04" stroke="#222" stroke-width="1"/>
<text x="301.7" y="310.54" font-size="7" fill="#444" stroke="#444" stroke-width="0.06" text-anchor="end" >60%</text>
<line x1="304.6" y1="298.68" x2="307.8" y2="298.68" stroke="#222" stroke-width="1"/>
<text x="301.7" y="301.18" font-size="7" fill="#444" stroke="#444" stroke-width="0.06" text-anchor="end" >70%</text>
<line x1="304.6" y1="289.32" x2="307.8" y2="289.32" stroke="#222" stroke-width="1"/>
<text x="301.7" y="291.82" font-size="7" fill="#444" stroke="#444" stroke-width="0.06" text-anchor="end" >80%</text>
<line x1="304.6" y1="279.96" x2="307.8" y2="279.96" stroke="#222" stroke-width="1"/>
<text x="301.7" y="282.46" font-size="7" fill="#444" stroke="#444" stroke-width="0.06" text-anchor="end" >90%</text>
<line x1="304.6" y1="270.6" x2="307.8" y2="270.6" stroke="#222" stroke-width="1"/>
<text x="301.7" y="273.1" font-size="7" fill="#444" stroke="#444" stroke-width="0.06" text-anchor="end" >100%</text>
<text transform="translate(279.4,316.4) rotate(-90)" font-size="9.2" fill="#3a3a3a" text-anchor="middle" textLength="55" lengthAdjust="spacingAndGlyphs">Percent surviving</text>
<line x1="307.15" y1="364.2" x2="512" y2="364.2" stroke="#222" stroke-width="1.3"/>
<line x1="317.5" y1="364.2" x2="317.5" y2="367.4" stroke="#222" stroke-width="1"/>
<text x="317.5" y="377.1" font-size="7.5" fill="#444" stroke="#444" stroke-width="0.06" text-anchor="middle" >0</text>
<line x1="340.65" y1="364.2" x2="340.65" y2="367.4" stroke="#222" stroke-width="1"/>
<text x="340.65" y="377.1" font-size="7.5" fill="#444" stroke="#444" stroke-width="0.06" text-anchor="middle" >6</text>
<line x1="363.8" y1="364.2" x2="363.8" y2="367.4" stroke="#222" stroke-width="1"/>
<text x="363.8" y="377.1" font-size="7.5" fill="#444" stroke="#444" stroke-width="0.06" text-anchor="middle" >12</text>
<line x1="386.94" y1="364.2" x2="386.94" y2="367.4" stroke="#222" stroke-width="1"/>
<text x="386.94" y="377.1" font-size="7.5" fill="#444" stroke="#444" stroke-width="0.06" text-anchor="middle" >18</text>
<line x1="410.09" y1="364.2" x2="410.09" y2="367.4" stroke="#222" stroke-width="1"/>
<text x="410.09" y="377.1" font-size="7.5" fill="#444" stroke="#444" stroke-width="0.06" text-anchor="middle" >24</text>
<line x1="433.24" y1="364.2" x2="433.24" y2="367.4" stroke="#222" stroke-width="1"/>
<text x="433.24" y="377.1" font-size="7.5" fill="#444" stroke="#444" stroke-width="0.06" text-anchor="middle" >30</text>
<line x1="456.39" y1="364.2" x2="456.39" y2="367.4" stroke="#222" stroke-width="1"/>
<text x="456.39" y="377.1" font-size="7.5" fill="#444" stroke="#444" stroke-width="0.06" text-anchor="middle" >36</text>
<line x1="479.54" y1="364.2" x2="479.54" y2="367.4" stroke="#222" stroke-width="1"/>
<text x="479.54" y="377.1" font-size="7.5" fill="#444" stroke="#444" stroke-width="0.06" text-anchor="middle" >42</text>
<line x1="502.68" y1="364.2" x2="502.68" y2="367.4" stroke="#222" stroke-width="1"/>
<text x="502.68" y="377.1" font-size="7.5" fill="#444" stroke="#444" stroke-width="0.06" text-anchor="middle" >48</text>
<text x="398.1" y="390.9" font-size="10.2" fill="#2a2a2a" stroke="#2a2a2a" stroke-width="0.08" text-anchor="start" textLength="24.6" lengthAdjust="spacingAndGlyphs" >Months</text>
<text x="326.2" y="400.9" font-size="7.3" fill="#444" stroke="#444" stroke-width="0.06" text-anchor="start" textLength="20" lengthAdjust="spacingAndGlyphs" >Group:</text>
<line x1="351.9" y1="398.7" x2="359.5" y2="398.7" stroke="#1f6450" stroke-width="1.2"/>
<line x1="355.7" y1="396.4" x2="355.7" y2="401" stroke="#1f6450" stroke-width="1"/>
<text x="363.1" y="400.9" font-size="7.3" fill="#444" stroke="#444" stroke-width="0.06" text-anchor="start" textLength="30.3" lengthAdjust="spacingAndGlyphs" >Favorable</text>
<line x1="400" y1="398.7" x2="407.6" y2="398.7" stroke="#eea142" stroke-width="1.2"/>
<line x1="403.8" y1="396.4" x2="403.8" y2="401" stroke="#eea142" stroke-width="1"/>
<text x="411.5" y="400.9" font-size="7.3" fill="#444" stroke="#444" stroke-width="0.06" text-anchor="start" textLength="40" lengthAdjust="spacingAndGlyphs" >Intermediate</text>
<line x1="457.7" y1="398.7" x2="465.3" y2="398.7" stroke="#c0214e" stroke-width="1.2"/>
<line x1="461.5" y1="396.4" x2="461.5" y2="401" stroke="#c0214e" stroke-width="1"/>
<text x="469.3" y="400.9" font-size="7.3" fill="#444" stroke="#444" stroke-width="0.06" text-anchor="start" textLength="25" lengthAdjust="spacingAndGlyphs" >Adverse</text>
<text x="312" y="412.5" font-size="7.5" fill="#333" stroke="#333" stroke-width="0.06" text-anchor="start" textLength="45.5" lengthAdjust="spacingAndGlyphs" >Number at risk</text>
<text x="302.7" y="422.8" font-size="7.5" fill="#2f8070" stroke="#2f8070" stroke-width="0.06" text-anchor="end" textLength="32.12" lengthAdjust="spacingAndGlyphs" >Favorable</text>
<text x="317.2" y="422.8" font-size="7.2" fill="#333" stroke="#333" stroke-width="0.06" text-anchor="middle" >154</text>
<text x="340.35" y="422.8" font-size="7.2" fill="#333" stroke="#333" stroke-width="0.06" text-anchor="middle" >110</text>
<text x="363.5" y="422.8" font-size="7.2" fill="#333" stroke="#333" stroke-width="0.06" text-anchor="middle" >77</text>
<text x="386.64" y="422.8" font-size="7.2" fill="#333" stroke="#333" stroke-width="0.06" text-anchor="middle" >46</text>
<text x="409.79" y="422.8" font-size="7.2" fill="#333" stroke="#333" stroke-width="0.06" text-anchor="middle" >24</text>
<text x="432.94" y="422.8" font-size="7.2" fill="#333" stroke="#333" stroke-width="0.06" text-anchor="middle" >12</text>
<text x="456.09" y="422.8" font-size="7.2" fill="#333" stroke="#333" stroke-width="0.06" text-anchor="middle" >1</text>
<text x="479.24" y="422.8" font-size="7.2" fill="#333" stroke="#333" stroke-width="0.06" text-anchor="middle" >0</text>
<text x="502.38" y="422.8" font-size="7.2" fill="#333" stroke="#333" stroke-width="0.06" text-anchor="middle" >0</text>
<text x="302.7" y="433.55" font-size="7.5" fill="#f2a84f" stroke="#f2a84f" stroke-width="0.06" text-anchor="end" textLength="41.87" lengthAdjust="spacingAndGlyphs" >Intermediate</text>
<text x="317.2" y="433.55" font-size="7.2" fill="#333" stroke="#333" stroke-width="0.06" text-anchor="middle" >261</text>
<text x="340.35" y="433.55" font-size="7.2" fill="#333" stroke="#333" stroke-width="0.06" text-anchor="middle" >165</text>
<text x="363.5" y="433.55" font-size="7.2" fill="#333" stroke="#333" stroke-width="0.06" text-anchor="middle" >91</text>
<text x="386.64" y="433.55" font-size="7.2" fill="#333" stroke="#333" stroke-width="0.06" text-anchor="middle" >44</text>
<text x="409.79" y="433.55" font-size="7.2" fill="#333" stroke="#333" stroke-width="0.06" text-anchor="middle" >23</text>
<text x="432.94" y="433.55" font-size="7.2" fill="#333" stroke="#333" stroke-width="0.06" text-anchor="middle" >7</text>
<text x="456.09" y="433.55" font-size="7.2" fill="#333" stroke="#333" stroke-width="0.06" text-anchor="middle" >2</text>
<text x="479.24" y="433.55" font-size="7.2" fill="#333" stroke="#333" stroke-width="0.06" text-anchor="middle" >1</text>
<text x="502.38" y="433.55" font-size="7.2" fill="#333" stroke="#333" stroke-width="0.06" text-anchor="middle" >0</text>
<text x="302.7" y="444.3" font-size="7.5" fill="#c23163" stroke="#c23163" stroke-width="0.06" text-anchor="end" textLength="26.5" lengthAdjust="spacingAndGlyphs" >Adverse</text>
<text x="317.2" y="444.3" font-size="7.2" fill="#333" stroke="#333" stroke-width="0.06" text-anchor="middle" >92</text>
<text x="340.35" y="444.3" font-size="7.2" fill="#333" stroke="#333" stroke-width="0.06" text-anchor="middle" >47</text>
<text x="363.5" y="444.3" font-size="7.2" fill="#333" stroke="#333" stroke-width="0.06" text-anchor="middle" >21</text>
<text x="386.64" y="444.3" font-size="7.2" fill="#333" stroke="#333" stroke-width="0.06" text-anchor="middle" >9</text>
<text x="409.79" y="444.3" font-size="7.2" fill="#333" stroke="#333" stroke-width="0.06" text-anchor="middle" >5</text>
<text x="432.94" y="444.3" font-size="7.2" fill="#333" stroke="#333" stroke-width="0.06" text-anchor="middle" >2</text>
<text x="456.09" y="444.3" font-size="7.2" fill="#333" stroke="#333" stroke-width="0.06" text-anchor="middle" >0</text>
<text x="479.24" y="444.3" font-size="7.2" fill="#333" stroke="#333" stroke-width="0.06" text-anchor="middle" >0</text>
<text x="502.38" y="444.3" font-size="7.2" fill="#333" stroke="#333" stroke-width="0.06" text-anchor="middle" >0</text>
<g stroke="#333" stroke-width="1.2" stroke-dasharray="2.8,2.6" fill="none">
<line x1="317.5" y1="317.5" x2="401.9" y2="317.5"/>
<line x1="350.8" y1="317.5" x2="350.8" y2="364.2"/>
<line x1="365.2" y1="317.5" x2="365.2" y2="364.2"/>
<line x1="401.9" y1="317.5" x2="401.9" y2="364.2"/>
</g>
<polyline points="318.1,271 320.3,276.7 323,282.9 326.5,289 330,295.2 333.5,300.5 338,305 343.2,311.6 349.9,317.1 355.4,322.6 360.9,326.5 364.2,329.2 365.9,334.7 370.8,335.8 376.9,340.6 383.8,343.4 390.8,346.9 400,348.1 401.9,349.5 403.3,352.9 404,352.9" fill="none" stroke="#c0214e" stroke-width="1.4" stroke-dasharray="4.5,2" stroke-linejoin="round"/>
<polyline points="404,352.9 414,352.9 416.7,354.2 448.7,355" fill="none" stroke="#c0214e" stroke-width="1.4" stroke-dasharray="6,3"/>
<polyline points="318.1,271 323.8,275.8 329.1,282 334.4,288.2 340.6,294.4 346.8,299.7 352.1,305 355.8,309.5 361.5,313.8 367.3,318.2 374,322.5 383.8,329 391.9,331.9 401.1,334.2 408.1,334.8 416.1,337.1 420.7,340.6 424,341.64" fill="none" stroke="#eea142" stroke-width="3" stroke-dasharray="3.2,1.2" stroke-linejoin="round"/>
<polyline points="424,341.64 424.2,341.7 445,341.9 494.1,341.7" fill="none" stroke="#eea142" stroke-width="1.3" stroke-dasharray="2.5,2.2"/>
<polyline points="318.1,271 323.8,274.5 329.1,278.5 334.4,282.4 340.6,286.4 346.8,290 353,293.3 361.5,296.1 367.3,298 373.1,301.8 376.9,307.1 382.7,310.5 390.8,314 401.1,317.5 408.1,320.4 412.7,323.8 413.8,325 423.1,325 427.7,327.3 428,327.3" fill="none" stroke="#1f6450" stroke-width="1.9" stroke-linejoin="round"/>
<polyline points="428,327.3 445,327.5 469.6,327.7" fill="none" stroke="#1f6450" stroke-width="1.4"/>
<path d="M324 282.54v4.2M322.3 284.64h3.4M328 289.56v4.2M326.3 291.66h3.4M332 296.13v4.2M330.3 298.23h3.4M336 300.9v4.2M334.3 303h3.4M340 305.44v4.2M338.3 307.54h3.4M344 310.16v4.2M342.3 312.26h3.4M348 313.44v4.2M346.3 315.54h3.4M352 317.1v4.2M350.3 319.2h3.4M356 320.93v4.2M354.3 323.03h3.4M360 323.76v4.2M358.3 325.86h3.4M364 326.94v4.2M362.3 329.04h3.4M368 333.07v4.2M366.3 335.17h3.4M372 334.64v4.2M370.3 336.74h3.4M376 337.79v4.2M374.3 339.89h3.4M384 341.4v4.2M382.3 343.5h3.4M392 344.96v4.2M390.3 347.06h3.4M412 350.8v4.2M410.3 352.9h3.4M426 352.33v4.2M424.3 354.43h3.4M448 352.88v4.2M446.3 354.98h3.4" stroke="#c0214e" stroke-width="1" fill="none"/>
<path d="M324 273.93v4.2M322.3 276.03h3.4M327 277.44v4.2M325.3 279.54h3.4M330 280.95v4.2M328.3 283.05h3.4M333 284.46v4.2M331.3 286.56h3.4M336 287.7v4.2M334.3 289.8h3.4M339 290.7v4.2M337.3 292.8h3.4M342 293.5v4.2M340.3 295.6h3.4M345 296.06v4.2M343.3 298.16h3.4M348 298.8v4.2M346.3 300.9h3.4M351 301.8v4.2M349.3 303.9h3.4M354 305.21v4.2M352.3 307.31h3.4M357 308.31v4.2M355.3 310.41h3.4M360 310.57v4.2M358.3 312.67h3.4M363 312.84v4.2M361.3 314.94h3.4M366 315.11v4.2M364.3 317.21h3.4M369 317.19v4.2M367.3 319.29h3.4M372 319.12v4.2M370.3 321.22h3.4M375 321.06v4.2M373.3 323.16h3.4M378 323.05v4.2M376.3 325.15h3.4M381 325.04v4.2M379.3 327.14h3.4M384 326.97v4.2M382.3 329.07h3.4M387 328.05v4.2M385.3 330.15h3.4M390 329.12v4.2M388.3 331.22h3.4M393 330.07v4.2M391.3 332.17h3.4M396 330.82v4.2M394.3 332.92h3.4M399 331.57v4.2M397.3 333.67h3.4M402 332.18v4.2M400.3 334.28h3.4M405 332.43v4.2M403.3 334.53h3.4M408 332.69v4.2M406.3 334.79h3.4M411 333.53v4.2M409.3 335.63h3.4M414 334.4v4.2M412.3 336.5h3.4M417 335.68v4.2M415.3 337.78h3.4M420 337.97v4.2M418.3 340.07h3.4M423 339.22v4.2M421.3 341.32h3.4M430 339.66v4.2M428.3 341.76h3.4M436 339.71v4.2M434.3 341.81h3.4M442 339.77v4.2M440.3 341.87h3.4M448 339.79v4.2M446.3 341.89h3.4M494 339.6v4.2M492.3 341.7h3.4" stroke="#eea142" stroke-width="1" fill="none"/>
<path d="M322 271.29v4.2M320.3 273.39h3.4M325 273.31v4.2M323.3 275.41h3.4M328 275.57v4.2M326.3 277.67h3.4M331 277.8v4.2M329.3 279.9h3.4M334 280.01v4.2M332.3 282.11h3.4M337 281.98v4.2M335.3 284.08h3.4M340 283.91v4.2M338.3 286.01h3.4M343 285.69v4.2M341.3 287.79h3.4M346 287.44v4.2M344.3 289.54h3.4M349 289.07v4.2M347.3 291.17h3.4M352 290.67v4.2M350.3 292.77h3.4M355 291.86v4.2M353.3 293.96h3.4M358 292.85v4.2M356.3 294.95h3.4M361 293.84v4.2M359.3 295.94h3.4M364 294.82v4.2M362.3 296.92h3.4M367 295.8v4.2M365.3 297.9h3.4M370 297.67v4.2M368.3 299.77h3.4M373 299.63v4.2M371.3 301.73h3.4M376 303.74v4.2M374.3 305.84h3.4M379 306.23v4.2M377.3 308.33h3.4M382 307.99v4.2M380.3 310.09h3.4M385 309.39v4.2M383.3 311.49h3.4M388 310.69v4.2M386.3 312.79h3.4M391 311.97v4.2M389.3 314.07h3.4M394 312.99v4.2M392.3 315.09h3.4M397 314.01v4.2M395.3 316.11h3.4M400 315.03v4.2M398.3 317.13h3.4M403 316.19v4.2M401.3 318.29h3.4M406 317.43v4.2M404.3 319.53h3.4M409 318.97v4.2M407.3 321.07h3.4M412 321.18v4.2M410.3 323.28h3.4M415 322.9v4.2M413.3 325h3.4M418 322.9v4.2M416.3 325h3.4M421 322.9v4.2M419.3 325h3.4M424 323.35v4.2M422.3 325.45h3.4M427 324.85v4.2M425.3 326.95h3.4M432 325.25v4.2M430.3 327.35h3.4M436 325.3v4.2M434.3 327.4h3.4M440 325.34v4.2M438.3 327.44h3.4M444 325.39v4.2M442.3 327.49h3.4M448 325.42v4.2M446.3 327.52h3.4M452 325.46v4.2M450.3 327.56h3.4M458 325.51v4.2M456.3 327.61h3.4M469.5 325.6v4.2M467.8 327.7h3.4" stroke="#1f6450" stroke-width="1" fill="none"/>
<rect x="0" y="0" width="1" height="453" fill="#585858"/><rect x="0" y="0" width="520" height="1" fill="#5a5a5a"/><rect x="518.75" y="0" width="1.25" height="453" fill="#5a5a5a"/><rect x="0" y="451.75" width="520" height="1.25" fill="#5a5a5a"/>
</svg></body></html>
